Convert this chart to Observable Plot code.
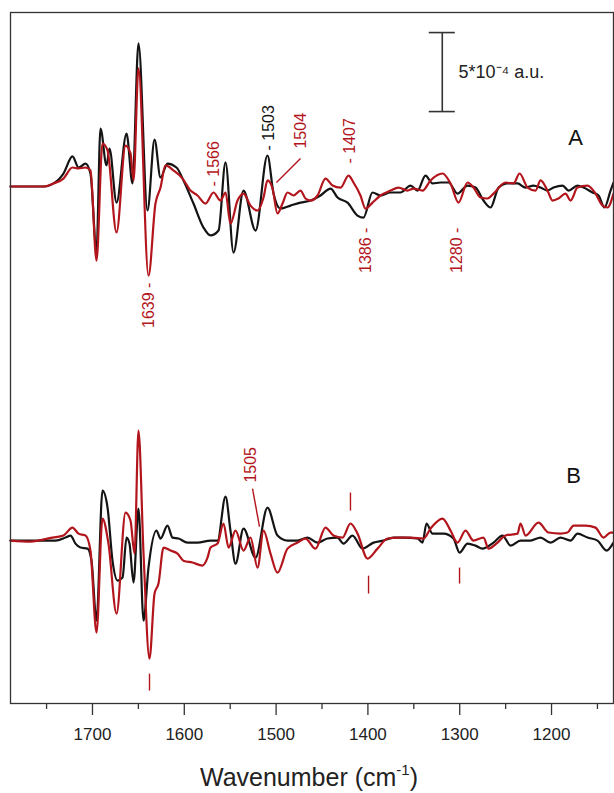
<!DOCTYPE html>
<html>
<head>
<meta charset="utf-8">
<script src="https://cdn.jsdelivr.net/npm/d3@7"></script>
<script src="https://cdn.jsdelivr.net/npm/@observablehq/plot@0.6"></script>
<style>
  html, body { margin: 0; padding: 0; background: #fff; }
  #chart svg { display: block; }
</style>
</head>
<body>
<div id="chart"></div>
<script>
// ---- Panel A, black spectrum (wavenumber cm-1, ΔA in 1e-4 a.u.)
const wnA_black = [1789.3,1767.5,1753.4,1738.1,1731.6,1721.8,1715.2,1707.6,1702.2,1695.6,1691.3,1684.7,1681.5,1673.8,1662.9,1656.4,1649.9,1640.1,1632.4,1625.9,1618.3,1608.5,1600.9,1590.0,1579.1,1571.4,1562.7,1555.1,1546.4,1535.5,1522.4,1509.4,1502.8,1495.2,1484.3,1473.4,1462.5,1451.6,1440.7,1433.1,1422.2,1411.3,1404.8,1395.0,1386.3,1375.4,1364.5,1353.6,1346.0,1337.3,1329.6,1320.9,1312.2,1302.4,1291.5,1282.8,1274.1,1266.4,1257.7,1247.9,1237.0,1228.3,1219.6,1212.0,1204.4,1197.8,1188.0,1181.5,1171.7,1165.1,1155.3,1148.8,1142.3,1135.7,1132.5];
const absA_black = [-0.06,-0.06,-0.06,0.32,0.76,1.84,1.14,1.39,0.76,-4.11,3.61,1.27,2.34,-1.08,3.29,0.13,8.99,-1.58,2.91,0.51,1.39,1.14,0.32,-1.14,-2.66,-3.16,-2.85,1.46,-4.24,-0.32,-2.85,1.90,-0.51,-1.46,-1.27,-1.08,-0.95,-0.63,-0.19,-0.76,-1.08,-1.90,-2.03,-0.44,-0.63,-0.44,-0.44,0,-0.32,0.63,0.13,0.19,0.19,-0.51,0,-0.13,-0.95,-1.39,-0.13,0.13,0.13,-0.13,0,-0.13,-0.32,-0.13,0,-0.32,0,-0.13,-0.44,-0.63,-1.39,-0.32,0.19];

// ---- Panel A, red spectrum
const wnA_red = [1789.3,1753.4,1742.5,1731.6,1721.8,1715.2,1707.6,1702.2,1695.6,1689.1,1683.6,1673.8,1664.0,1658.6,1655.3,1649.9,1639.0,1631.4,1625.9,1620.5,1611.7,1601.9,1593.2,1585.6,1576.9,1568.2,1560.6,1555.1,1549.7,1542.0,1535.5,1527.9,1520.2,1513.7,1509.4,1503.9,1498.5,1493.0,1487.6,1481.0,1473.4,1468.0,1462.5,1454.9,1446.2,1438.5,1429.8,1421.1,1415.7,1408.1,1402.6,1395.0,1386.3,1375.4,1366.7,1356.9,1350.3,1340.5,1331.8,1318.7,1310.0,1301.3,1291.5,1285.0,1277.3,1269.7,1263.2,1250.1,1241.4,1234.8,1226.1,1217.4,1212.0,1204.4,1198.9,1192.4,1184.8,1179.3,1171.7,1160.8,1152.1,1144.4,1139.0,1132.5];
const absA_red = [-0.06,-0.06,0.13,0.44,1.14,1.08,1.14,0.95,-4.75,2.66,2.22,-2.97,2.53,2.03,0.32,7.41,-5.70,-1.14,-0.13,1.27,0.95,0.44,-0.32,-0.63,-1.14,-0.44,-0.95,-0.44,-2.41,-0.95,-0.51,-1.27,-1.58,-0.76,0.32,-0.19,-1.77,-1.14,-0.44,-0.63,-0.32,-0.82,-0.95,-0.63,0.44,0,-0.13,0.63,0.19,-0.63,-1.46,-1.08,-0.63,-0.32,-0.13,-0.32,-0.19,-0.32,0.32,0.76,0.13,-1.08,0.19,-0.13,-0.76,-0.82,-0.51,0.19,0.13,0.76,-0.13,-0.32,0.32,-0.32,-0.95,-0.82,-0.51,-0.95,-0.13,0,-0.51,-1.27,-1.39,-0.51];

// ---- Panel B, black spectrum
const wnB_black = [1789.3,1740.3,1729.4,1723.9,1718.5,1713.1,1705.4,1701.1,1695.6,1689.1,1683.6,1678.2,1672.7,1667.3,1662.9,1659.7,1655.3,1649.9,1644.4,1639.0,1630.3,1625.9,1618.3,1612.8,1606.3,1596.5,1585.6,1571.4,1563.8,1555.1,1549.7,1544.2,1535.5,1522.4,1509.4,1498.5,1487.6,1476.7,1465.8,1454.9,1444.0,1433.1,1426.6,1416.8,1405.9,1393.9,1383.0,1372.1,1361.2,1346.0,1340.5,1336.2,1329.6,1317.6,1306.8,1300.2,1291.5,1282.8,1275.2,1263.2,1253.4,1244.6,1233.8,1222.9,1212.0,1201.1,1190.2,1179.3,1171.7,1160.8,1149.9,1140.1,1132.5];
const absB_black = [0,0,0.19,0.32,-0.19,-0.44,-0.51,-1.27,-5.06,3.16,2.09,-1.27,-2.53,-2.34,0.19,-0.19,-2.66,2.03,-5.06,-1.71,0.63,0.13,0.95,0.19,0.13,-0.13,-0.13,0,0,2.78,0.63,-1.46,0.76,-1.08,2.09,0.32,0,0,0.19,-0.13,0.13,0.19,-0.19,0.32,-0.51,-0.13,0,0.19,0.19,0.13,-0.13,1.08,0.44,0.44,0.13,-0.76,-0.19,-0.32,-0.51,-0.13,0.32,-0.32,0,0,0.19,-0.13,0.19,0,0.44,0.19,0,-0.63,-0.13];

// ---- Panel B, red spectrum
const wnB_red = [1789.3,1767.5,1743.6,1731.6,1721.8,1715.2,1707.6,1702.2,1695.6,1689.1,1682.6,1673.8,1664.0,1658.6,1654.2,1649.9,1644.4,1637.9,1632.4,1628.1,1622.6,1615.0,1607.4,1600.9,1591.1,1580.2,1574.7,1571.4,1563.8,1557.3,1551.8,1544.2,1535.5,1527.9,1520.2,1513.7,1506.1,1498.5,1487.6,1476.7,1468.0,1457.1,1446.2,1437.5,1427.7,1419.0,1411.3,1400.4,1389.5,1378.6,1367.7,1353.6,1339.4,1331.8,1318.7,1310.0,1302.4,1293.7,1285.0,1274.1,1268.6,1258.8,1250.1,1237.0,1233.8,1228.3,1214.2,1203.3,1190.2,1182.6,1176.0,1163.0,1152.1,1143.4,1135.7,1132.5];
const absB_red = [0,-0.06,0.19,0.32,0.82,0.44,0.32,-0.63,-5.82,1.39,-0.19,-4.62,1.77,1.27,-0.82,6.96,-0.82,-7.47,-3.35,-2.72,-0.44,-0.63,-0.82,-1.27,-1.39,-1.58,-1.08,-0.44,-0.19,1.08,-0.44,0.63,-0.63,0.19,-1.71,0.63,-0.82,-2.03,-0.51,-0.13,0.13,-0.51,0.82,0.32,0.19,1.08,0.44,-1.14,-0.51,0.13,0.19,0.19,0.13,0.76,1.39,0.63,-0.13,0.63,0,0.19,-0.51,-0.13,0.32,0.44,1.08,0.32,1.14,0.51,0.44,0.51,0.95,0.95,0.82,0.19,0.51,0.51];

// ---- Axis ticks
const majorTicks = [1700, 1600, 1500, 1400, 1300, 1200];
const minorTicks = [1750, 1650, 1550, 1450, 1350, 1250, 1150];

// ---- Peak annotations (rotated labels)
const labelText   = ["- 1566", "- 1503", "1504", "- 1407", "1386 -", "1280 -", "1639 -", "1505"];
const labelWn     = [1568.2, 1508.3, 1473.4, 1419.7, 1402.6, 1302.7, 1639.0, 1527.1];
const labelAbs    = [-0.06, 2.22, 2.34, 1.39, -2.66, -2.66, -6.14, 3.67];
const labelPanel  = ["A", "A", "A", "A", "A", "A", "A", "B"];
const labelColor  = ["red", "black", "red", "red", "red", "red", "red", "red"];
const labelAnchor = ["start", "start", "start", "start", "end", "end", "end", "start"];

// ---- Leader lines and peak tick marks
const leaderWn1  = [1473.4, 1525.7, 1637.9, 1419.0, 1399.3, 1300.2];
const leaderAbs1 = [1.71, 3.29, -8.42, 3.04, -2.22, -1.71];
const leaderWn2  = [1499.6, 1518.1, 1637.9, 1419.0, 1399.3, 1300.2];
const leaderAbs2 = [0.19, 0.89, -9.49, 1.90, -3.35, -2.72];
const leaderPanel = ["A", "B", "B", "B", "B", "B"];

// ---- Scale bar (5 x 1e-4 a.u.) and panel letters
const scaleBarWn = 1319.0, scaleBarTop = 9.68, scaleBarLen = 5;
const scaleLabel = "5*10⁻⁴ a.u.";
const panelLetters = ["A", "B"];
const panelLetterWn = [1173.9, 1176.0];
const panelLetterAbs = [3.04, 4.11];

// panel vertical offsets (in 1e-4 a.u.)
const panelOffset = {A: 0, B: -22.47};

const RED = "#b3151c", BLACK = "#141414";
const col = c => c === "red" ? RED : BLACK;

const series = (wn, ab, panel) => wn.map((w, i) => ({w, y: ab[i] + panelOffset[panel]}));
const aK = series(wnA_black, absA_black, "A");
const aR = series(wnA_red, absA_red, "A");
const bK = series(wnB_black, absB_black, "B");
const bR = series(wnB_red, absB_red, "B");

const labels = labelText.map((t, i) => ({t, w: labelWn[i], y: labelAbs[i] + panelOffset[labelPanel[i]], c: col(labelColor[i]), a: labelAnchor[i]}));
const leaders = leaderWn1.map((w1, i) => ({
  x1: w1, y1: leaderAbs1[i] + panelOffset[leaderPanel[i]],
  x2: leaderWn2[i], y2: leaderAbs2[i] + panelOffset[leaderPanel[i]]
}));
const letters = panelLetters.map((l, i) => ({l, w: panelLetterWn[i], y: panelLetterAbs[i] + panelOffset[l]}));

const lineOpts = {x: "w", y: "y", strokeWidth: 2.2, curve: "monotone-x", strokeLinejoin: "round"};

const plot = Plot.plot({
  width: 614,
  height: 793,
  marginLeft: 10,
  marginRight: 1,
  marginTop: 12,
  marginBottom: 90,
  style: {fontFamily: "'Liberation Sans', Arial, Helvetica, sans-serif", background: "#fff"},
  x: {domain: [1789.3, 1132.5], range: [10, 613]},
  y: {domain: [-32.78, 10.95], axis: null},
  marks: [
    Plot.line(aK, {...lineOpts, stroke: BLACK}),
    Plot.line(aR, {...lineOpts, stroke: RED}),
    Plot.line(bK, {...lineOpts, stroke: BLACK}),
    Plot.line(bR, {...lineOpts, stroke: RED}),
    Plot.link(leaders, {x1: "x1", y1: "y1", x2: "x2", y2: "y2", stroke: RED, strokeWidth: 1.4}),
    ...["start", "end"].map(anchor => Plot.text(labels.filter(d => d.a === anchor), {
      x: "w", y: "y", text: "t", fill: "c", rotate: -90, textAnchor: anchor,
      lineAnchor: "middle", fontSize: 16
    })),
    // scale bar
    Plot.ruleX([scaleBarWn], {y1: scaleBarTop, y2: scaleBarTop - scaleBarLen, stroke: "#333", strokeWidth: 1.6}),
    Plot.ruleY([scaleBarTop, scaleBarTop - scaleBarLen], {x1: scaleBarWn + 14.2, x2: scaleBarWn - 14.2, stroke: "#333", strokeWidth: 1.6}),
    Plot.text([scaleLabel], {x: 1301.3, y: scaleBarTop - scaleBarLen / 2, text: d => d, textAnchor: "start", fontSize: 18, fill: "#222"}),
    Plot.text(letters, {x: "w", y: "y", text: "l", fontSize: 22, fill: "#111"}),
    Plot.frame({stroke: "#333", strokeWidth: 1.3}),
    Plot.axisX(majorTicks, {tickSize: 12, tickPadding: 12, fontSize: 17, stroke: "#333", strokeWidth: 1.3, label: null, color: "#222", tickFormat: d => String(d)}),
    Plot.axisX(minorTicks, {tickSize: 6, text: null, stroke: "#333", strokeWidth: 1.3, label: null})
  ]
});

document.getElementById("chart").appendChild(plot);

// axis title with superscript
const svg = d3.select(plot);
const title = svg.append("text")
  .attr("x", 309).attr("y", 786)
  .attr("text-anchor", "middle")
  .attr("font-size", 25)
  .attr("fill", "#222")
  .attr("font-family", "'Liberation Sans', Arial, sans-serif");
title.append("tspan").text("Wavenumber (cm");
title.append("tspan").attr("font-size", 15).attr("dy", -11).text("-1");
title.append("tspan").attr("dy", 11).text(")");
</script>
</body>
</html>
